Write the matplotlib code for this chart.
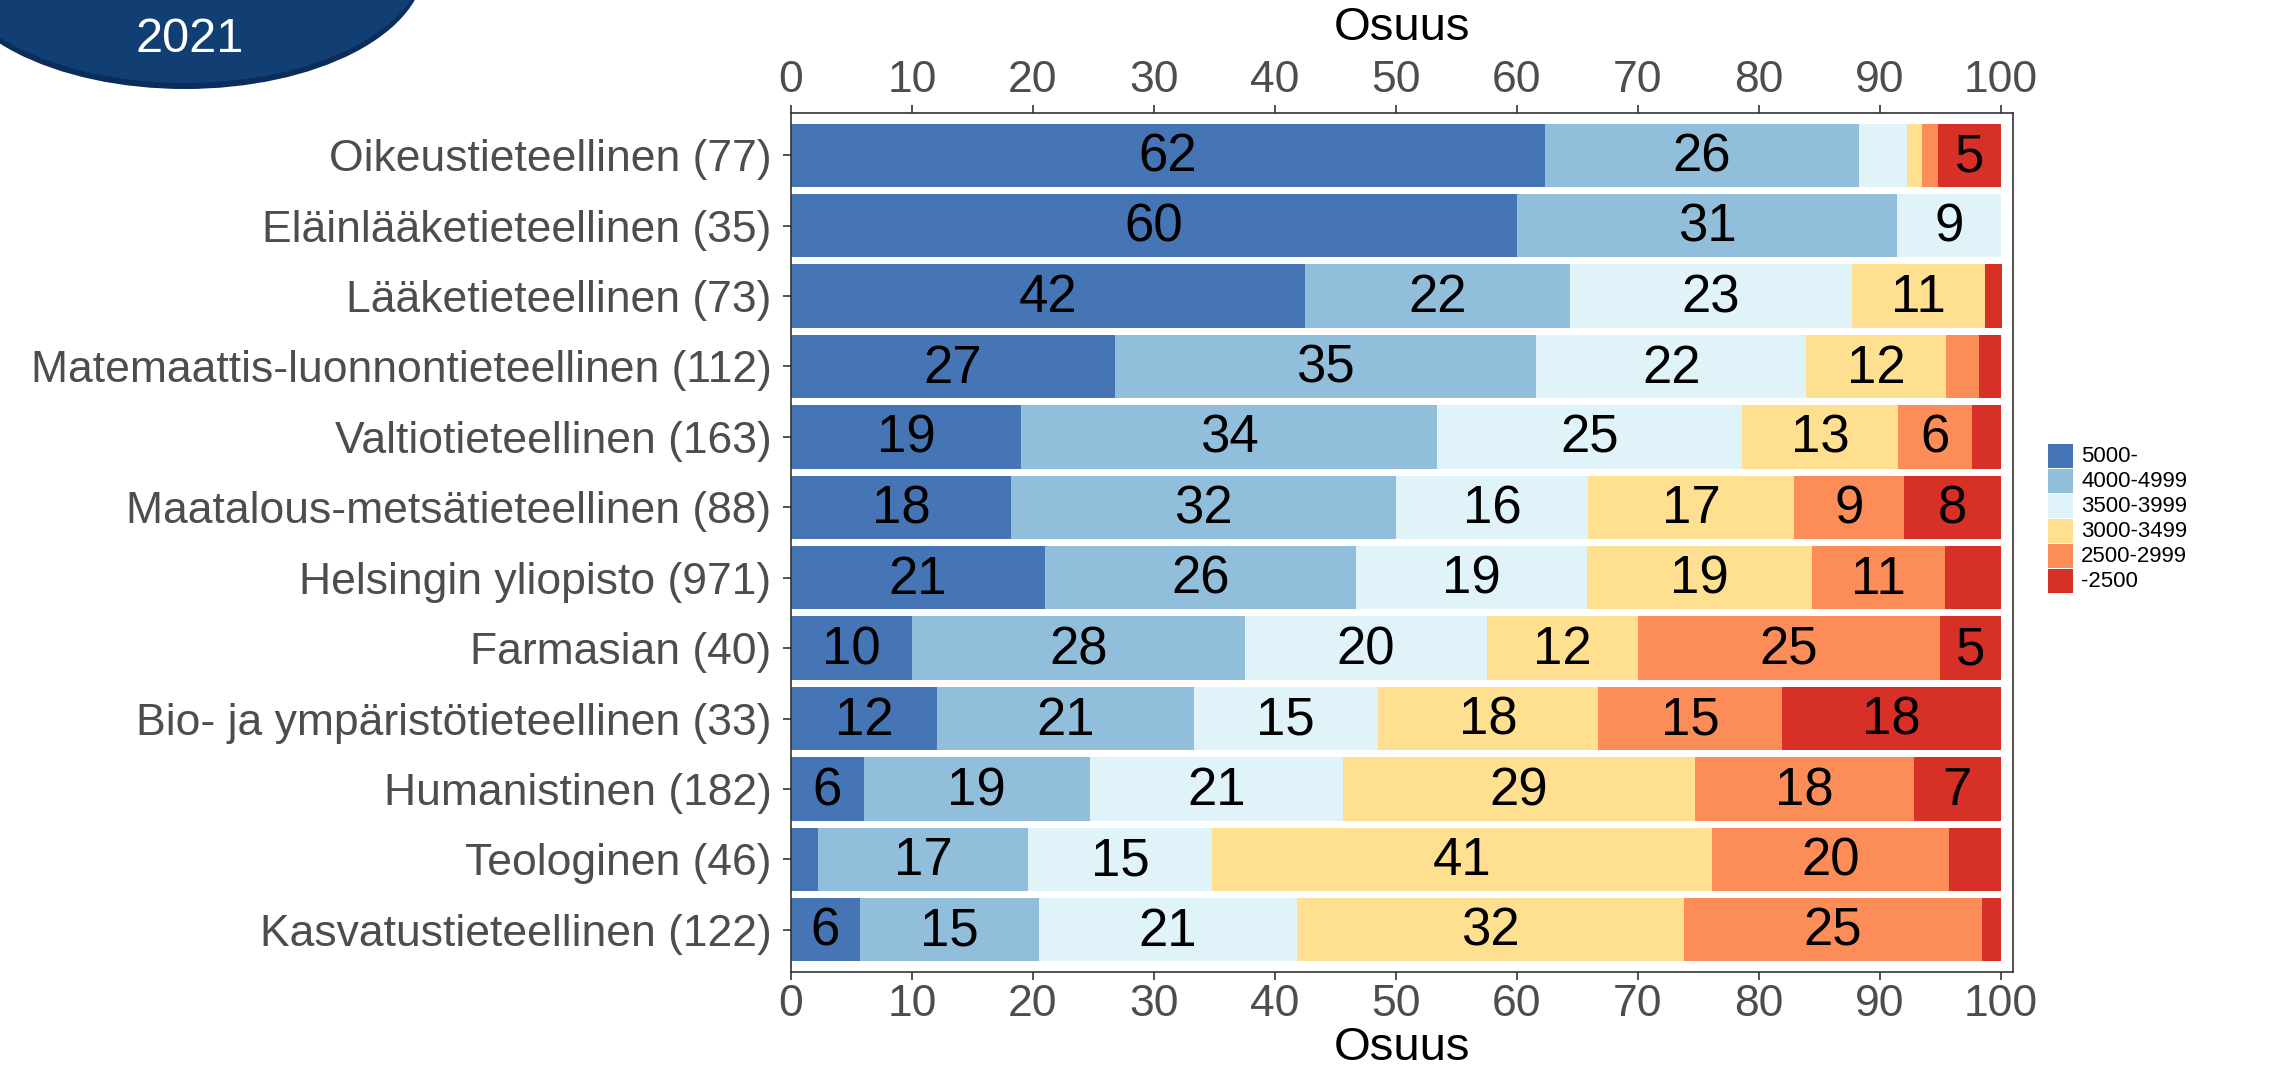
import matplotlib
matplotlib.use("Agg")
import matplotlib.pyplot as plt
from matplotlib.patches import Ellipse, Rectangle
import numpy as np

plt.rcParams['font.family'] = ['Liberation Sans', 'DejaVu Sans']

categories = ["Oikeustieteellinen (77)", "Eläinlääketieteellinen (35)", "Lääketieteellinen (73)",
              "Matemaattis-luonnontieteellinen (112)", "Valtiotieteellinen (163)",
              "Maatalous-metsätieteellinen (88)", "Helsingin yliopisto (971)", "Farmasian (40)",
              "Bio- ja ympäristötieteellinen (33)", "Humanistinen (182)", "Teologinen (46)",
              "Kasvatustieteellinen (122)"]

s_5000 = [62.3, 60.0, 42.5, 26.8, 19.0, 18.2, 21.0, 10.0, 12.1, 6.0, 2.2, 5.7]
s_4000 = [26.0, 31.4, 21.9, 34.8, 34.4, 31.8, 25.7, 27.5, 21.2, 18.7, 17.4, 14.8]
s_3500 = [3.9, 8.6, 23.3, 22.3, 25.2, 15.9, 19.1, 20.0, 15.2, 20.9, 15.2, 21.3]
s_3000 = [1.3, 0.0, 11.0, 11.6, 12.9, 17.0, 18.6, 12.5, 18.2, 29.1, 41.3, 32.0]
s_2500 = [1.3, 0.0, 0.0, 2.7, 6.1, 9.1, 11.0, 25.0, 15.2, 18.1, 19.6, 24.6]
s_lt2500 = [5.2, 0.0, 1.4, 1.8, 2.4, 8.0, 4.6, 5.0, 18.1, 7.2, 4.3, 1.6]

series_labels = ["5000-", "4000-4999", "3500-3999", "3000-3499", "2500-2999", "-2500"]
series = [s_5000, s_4000, s_3500, s_3000, s_2500, s_lt2500]
colors = ["#4575b4", "#91bfdb", "#e0f3f8", "#fee090", "#fc8d59", "#d73027"]

x_ticks = list(range(0, 101, 10))
axis_title = "Osuus"
y_title = "Tiedekunta"
badge_text = "2021"

W, H = 2279, 1075
fig = plt.figure(figsize=(W / 100, H / 100), dpi=100)
fig.patch.set_facecolor("white")

# overlay in pixel coordinates for badge & legend
ov = fig.add_axes([0, 0, 1, 1], zorder=0)
ov.set_xlim(0, W)
ov.set_ylim(H, 0)
ov.axis("off")
ov.patch.set_alpha(0)

ax_top_px, ax_bot_px = 113, 972
ax = fig.add_axes([791 / W, 1 - ax_bot_px / H, (2013 - 791) / W, (ax_bot_px - ax_top_px) / H],
                  zorder=2)
ypos = np.arange(len(categories))
left = np.zeros(len(categories))
for vals, col in zip(series, colors):
    vals = np.array(vals)
    ax.barh(ypos, vals, left=left, height=0.9, color=col, edgecolor="none")
    for yi, (l, v) in enumerate(zip(left, vals)):
        if v >= 4.9:
            ax.text(l + v / 2, yi + 0.03, f"{v:.0f}", ha="center", va="center",
                    fontsize=38, color="black")
    left += vals

ax.set_xlim(0, 101)
ax.set_ylim(len(categories) - 0.4, -0.6)
ax.set_yticks(ypos)
ax.set_yticklabels(categories)
ax.set_xticks(x_ticks)
ax.tick_params(axis="both", labelsize=32, labelcolor="#4d4d4d", color="#333333",
               length=6, width=1.2)
ax.tick_params(axis="y", pad=8)
ax.tick_params(axis="x", top=True, labeltop=True, pad=3)
for s in ax.spines.values():
    s.set_color("#333333")
    s.set_linewidth(1.2)
ax.set_xlabel(axis_title, fontsize=34, color="black", labelpad=0)
ax.text(0.5, 1 + (ax_top_px - 28) / (ax_bot_px - ax_top_px), axis_title,
        transform=ax.transAxes, ha="center", va="center", fontsize=34, color="black")

# y-axis title (clipped at left edge as in reference)
fig.text(8 / W, 1 - 542 / H, y_title, rotation=90, ha="right", va="center",
         fontsize=30, color="black")

# badge
ov.add_patch(Ellipse((185, -36), 480, 250, facecolor="#0a2d5c", edgecolor="none"))
ov.add_patch(Ellipse((185, -42), 480, 250, facecolor="#113f74", edgecolor="none"))
ov.text(190, 40, badge_text, ha="center", va="center", fontsize=35, color="white")

# legend
key_w, key_h = 25, 25.0
x0, y0 = 2048, 444
for i, (lab, col) in enumerate(zip(series_labels, colors)):
    ov.add_patch(Rectangle((x0, y0 + i * key_h), key_w, key_h - 1.5, facecolor=col,
                           edgecolor="none"))
    ov.text(x0 + key_w + 8, y0 + i * key_h + key_h / 2, lab, ha="left", va="center",
            fontsize=16, color="black")

fig.savefig("out.png", dpi=100)
